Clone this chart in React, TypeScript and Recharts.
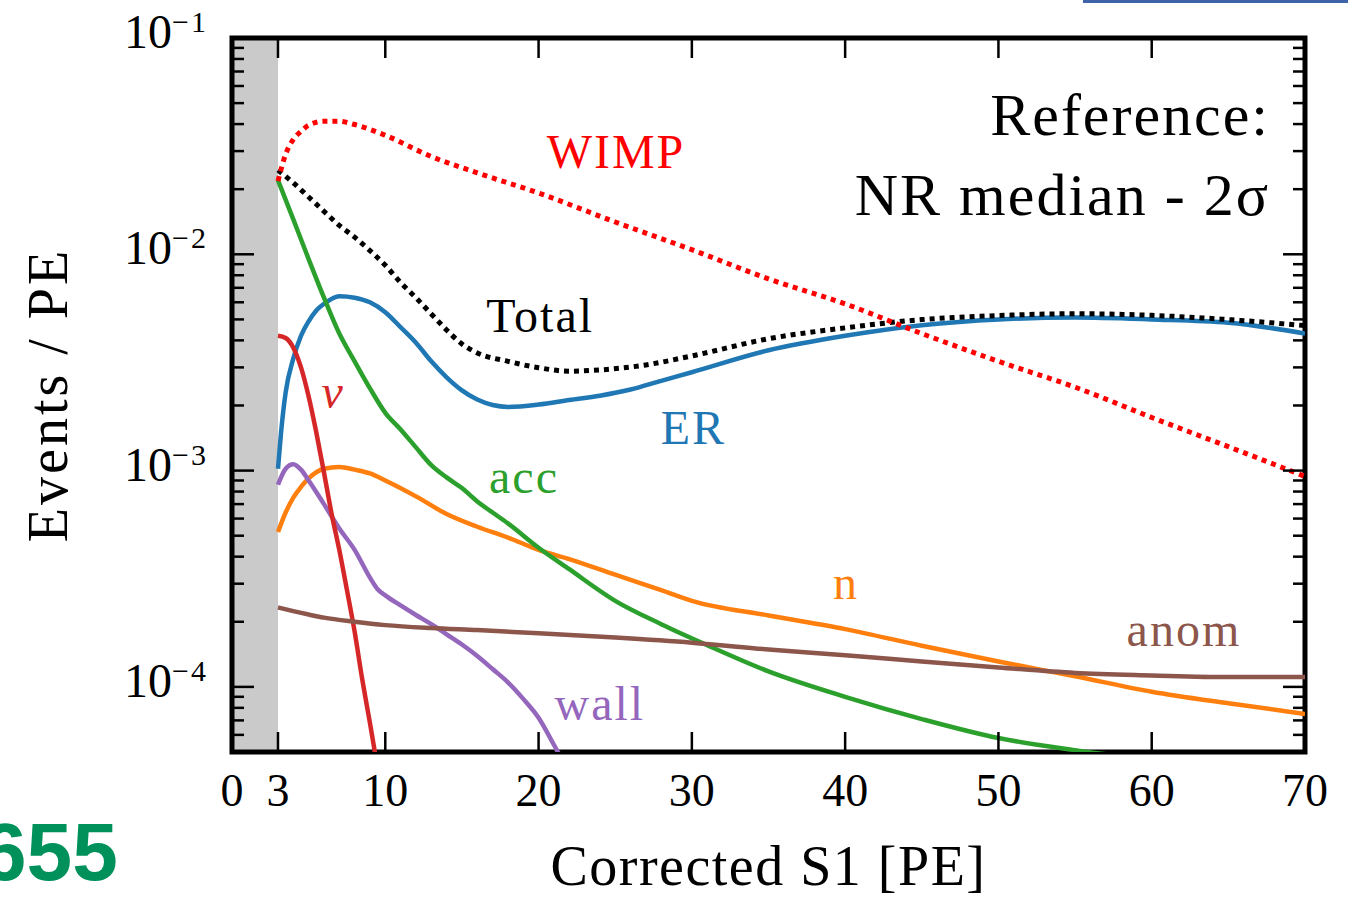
import React from 'react';
import { LineChart, Line, XAxis, YAxis, ReferenceArea, ReferenceDot } from 'recharts';

const SERIF = '"Liberation Serif", "Times New Roman", serif';

// axis ticks
const X_TICKS = [0, 3, 10, 20, 30, 40, 50, 60, 70];
const X_TOP_TICKS = [3, 10, 20, 30, 40, 50, 60, 70];
const Y_MAJOR = [1e-4, 1e-3, 1e-2, 1e-1];
const Y_EXP = ['\u22124', '\u22123', '\u22122', '\u22121'];
const Y_MINOR = [
  6e-5, 7e-5, 8e-5, 9e-5,
  2e-4, 3e-4, 4e-4, 5e-4, 6e-4, 7e-4, 8e-4, 9e-4,
  2e-3, 3e-3, 4e-3, 5e-3, 6e-3, 7e-3, 8e-3, 9e-3,
  2e-2, 3e-2, 4e-2, 5e-2, 6e-2, 7e-2, 8e-2, 9e-2,
];
const Y_TICKS = [...Y_MAJOR, ...Y_MINOR].sort((a, b) => a - b);

// spectra: [S1 (PE), events / PE]
const WIMP: [number, number][] = [
  [3, 0.0218], [3.5, 0.029], [4, 0.034], [4.5, 0.037], [5, 0.0395], [6, 0.0412], [7, 0.0412],
  [8, 0.0398], [10, 0.0355], [13, 0.0283], [16, 0.0238], [20, 0.0192], [25, 0.0141],
  [30, 0.0105], [35, 0.0077], [40, 0.0059], [45, 0.0043], [50, 0.0032], [55, 0.00243],
  [60, 0.00176], [65, 0.00129], [70, 0.00094],
];
const TOTAL: [number, number][] = [
  [3, 0.0245], [4, 0.0214], [5, 0.0184], [6, 0.0158], [7, 0.0136], [8, 0.012], [9, 0.0104],
  [10, 0.0089], [11, 0.0074], [12, 0.0063], [13, 0.0053], [14, 0.00447], [15, 0.00385],
  [16, 0.0035], [18, 0.0032], [20, 0.00299], [22, 0.00288], [24, 0.00292], [27, 0.00308],
  [30, 0.00339], [35, 0.00407], [40, 0.00457], [45, 0.00499], [50, 0.00521], [55, 0.00531],
  [60, 0.00522], [65, 0.00499], [70, 0.00468],
];
const ER: [number, number][] = [
  [3, 0.00102], [3.2, 0.0015], [3.5, 0.0023], [4, 0.0033], [4.5, 0.0042], [5, 0.0049],
  [5.5, 0.0055], [6, 0.0059], [7, 0.0064], [8, 0.0063], [9, 0.006], [10, 0.0054], [11, 0.0046],
  [12, 0.0039], [13, 0.0032], [14, 0.0027], [15, 0.00235], [16, 0.00213], [17, 0.00201],
  [18, 0.00197], [20, 0.00202], [22, 0.00212], [24, 0.00222], [26, 0.00237], [28, 0.0026],
  [30, 0.00285], [35, 0.0036], [40, 0.0042], [45, 0.0047], [50, 0.005], [55, 0.0051],
  [60, 0.005], [65, 0.00483], [70, 0.0043],
];
const ACC: [number, number][] = [
  [3, 0.022], [4, 0.0145], [5, 0.0095], [6, 0.0063], [7, 0.0043], [8, 0.0032], [9, 0.0024],
  [10, 0.00185], [11, 0.00155], [12, 0.00128], [13, 0.00106], [14, 0.00093], [15, 0.00083],
  [16, 0.00072], [17, 0.00064], [18, 0.00057], [20, 0.00044], [22, 0.00035], [25, 0.00025],
  [28, 0.000195], [31, 0.000156], [35, 0.000118], [40, 0.00009], [45, 0.000071],
  [50, 0.000058], [55, 0.000051], [60, 0.000046], [65, 0.000042], [70, 0.000039],
];
const NEUTRON: [number, number][] = [
  [3, 0.00052], [3.5, 0.00064], [4, 0.00075], [4.5, 0.00084], [5, 0.00092], [6, 0.00102],
  [7, 0.00104], [8, 0.00101], [9, 0.00097], [10, 0.0009], [12, 0.00076], [14, 0.00063],
  [16, 0.00055], [18, 0.00049], [20, 0.00043], [22, 0.00039], [25, 0.00033], [28, 0.00028],
  [30, 0.00025], [35, 0.000214], [40, 0.000185], [45, 0.000155], [50, 0.000131],
  [55, 0.000112], [60, 0.000095], [65, 0.000084], [70, 0.000075],
];
const ANOM: [number, number][] = [
  [3, 0.000233], [4, 0.000224], [5, 0.000216], [6, 0.000209], [8, 0.0002], [10, 0.000193],
  [13, 0.000187], [16, 0.000183], [20, 0.000177], [25, 0.000169], [30, 0.00016],
  [35, 0.000149], [40, 0.00014], [45, 0.000131], [50, 0.000123], [55, 0.000116],
  [60, 0.000113], [65, 0.000111], [70, 0.000111],
];
const WALL: [number, number][] = [
  [3, 0.00086], [3.5, 0.00102], [4, 0.00107], [4.5, 0.00101], [5, 0.0009], [6, 0.0007],
  [7, 0.00054], [8, 0.00043], [9, 0.00032], [9.5, 0.000283], [10, 0.000265], [11, 0.000238],
  [12, 0.000215], [13, 0.000195], [14, 0.000175], [15, 0.000157], [16, 0.000139],
  [17, 0.000121], [18, 0.000105], [19, 0.000088], [20, 0.000072], [21, 0.000054], [22, 0.00004],
];
const NU: [number, number][] = [
  [3, 0.0042], [3.5, 0.0041], [4, 0.0037], [4.5, 0.003], [5, 0.0022], [5.5, 0.0015],
  [6, 0.00098], [6.5, 0.00063], [7, 0.00043], [7.5, 0.00028], [8, 0.00018], [8.5, 0.000108],
  [9, 0.000068], [9.5, 0.000042], [10, 0.000026],
];

// text placed in data coordinates (baseline anchor)
const LABELS = [
  { text: 'WIMP', x: 25.05, y: 0.025, color: '#ff0000' },
  { text: 'Total', x: 20.1, y: 0.00436, color: '#000000' },
  { text: 'ER', x: 30.1, y: 0.00133, color: '#1f77b4' },
  { text: '\u03bd', x: 6.6, y: 0.00194, color: '#d62728', italic: true },
  { text: 'acc', x: 19.05, y: 0.00079, color: '#2ca02c' },
  { text: 'n', x: 40.05, y: 0.000255, color: '#ff7f0e' },
  { text: 'anom', x: 62.1, y: 0.000155, color: '#8c564b' },
  { text: 'wall', x: 24.0, y: 0.0000703, color: '#9467bd' },
];
const NOTE = [
  { text: 'Reference:', x: 67.72, y: 0.0356 },
  { text: 'NR median - 2\u03c3', x: 67.72, y: 0.01516 },
];

const toPoints = (pairs: [number, number][]) => pairs.map(([x, y]) => ({ x, y }));

const TICK_W = 2.5;

const BottomTick = (props: any) => {
  const { x, y, payload } = props;
  const v = payload.value;
  return (
    <g>
      {v > 0 && v < 70 && <line x1={x} y1={y} x2={x} y2={y - 20} stroke="#000" strokeWidth={TICK_W} />}
      <text x={x} y={y + 54} textAnchor="middle" fontSize={46} fontFamily={SERIF} fill="#000">
        {v}
      </text>
    </g>
  );
};

const TopTick = (props: any) => {
  const { x, y, payload } = props;
  if (payload.value >= 70) return <g />;
  return <line x1={x} y1={y} x2={x} y2={y + 20} stroke="#000" strokeWidth={TICK_W} />;
};

const LeftTick = (props: any) => {
  const { x, y, payload } = props;
  const i = Y_MAJOR.indexOf(payload.value);
  if (i < 0) return <line x1={x} y1={y} x2={x + 12} y2={y} stroke="#000" strokeWidth={TICK_W} />;
  return (
    <g>
      {i < Y_MAJOR.length - 1 && (
        <line x1={x} y1={y} x2={x + 22} y2={y} stroke="#000" strokeWidth={TICK_W} />
      )}
      <text x={x - 24} y={y + 10} textAnchor="end" fontSize={48} fontFamily={SERIF} fill="#000">
        10
        <tspan dy={-16} fontSize={30} letterSpacing={2}>
          {Y_EXP[i]}
        </tspan>
      </text>
    </g>
  );
};

const RightTick = (props: any) => {
  const { x, y, payload } = props;
  const major = Y_MAJOR.includes(payload.value);
  if (payload.value >= 0.1) return <g />;
  return <line x1={x} y1={y} x2={x - (major ? 22 : 12)} y2={y} stroke="#000" strokeWidth={TICK_W} />;
};

const textLabel = (text: string, color: string, opts: { italic?: boolean; anchor?: string; size?: number } = {}) =>
  (props: any) => {
    const { viewBox } = props;
    return (
      <text
        x={viewBox.x}
        y={viewBox.y}
        textAnchor={opts.anchor || 'middle'}
        fill={color}
        fontSize={opts.size || 48}
        fontStyle={opts.italic ? 'italic' : 'normal'}
        fontFamily={SERIF}
        letterSpacing={2}
      >
        {text}
      </text>
    );
  };

const line = (data: [number, number][], color: string, dotted = false) => (
  <Line
    xAxisId="b"
    yAxisId="l"
    data={toPoints(data)}
    dataKey="y"
    type="monotone"
    stroke={color}
    strokeWidth={dotted ? 5 : 4.5}
    strokeDasharray={dotted ? '5 5' : undefined}
    strokeLinecap="butt"
    dot={false}
    activeDot={false}
    isAnimationActive={false}
  />
);

export default function App() {
  return (
    <div style={{ width: 1340, height: 889 }}>
      <div style={{ position: 'absolute', left: 1083, top: 0, width: 265, height: 3, background: '#3f63a8' }} />
      <div
        style={{
          position: 'absolute',
          left: -19,
          top: 811,
          fontFamily: '"Liberation Sans", Arial, sans-serif',
          fontWeight: 700,
          fontSize: 82,
          lineHeight: 1,
          color: '#00915a',
        }}
      >
        655
      </div>
      <LineChart
        width={1340}
        height={889}
        margin={{ top: 29, right: 42, bottom: 144, left: 223 }}
        style={{ overflow: 'visible' }}
      >
        <XAxis
          xAxisId="b"
          type="number"
          dataKey="x"
          domain={[0, 70]}
          allowDataOverflow
          ticks={X_TICKS}
          interval={0}
          height={1}
          tickSize={0}
          tickMargin={0}
          axisLine={false}
          tick={BottomTick}
          label={{
            content: (p: any) => {
              const vb = p.viewBox;
              return (
                <text
                  x={vb.x + vb.width / 2}
                  y={vb.y + 133}
                  textAnchor="middle"
                  fontSize={56}
                  letterSpacing={1.5}
                  fontFamily={SERIF}
                  fill="#000"
                >
                  Corrected S1 [PE]
                </text>
              );
            },
          }}
        />
        <XAxis
          xAxisId="t"
          orientation="top"
          type="number"
          dataKey="x"
          domain={[0, 70]}
          allowDataOverflow
          ticks={X_TOP_TICKS}
          interval={0}
          height={1}
          tickSize={0}
          tickMargin={0}
          axisLine={false}
          tick={TopTick}
        />
        <YAxis
          yAxisId="l"
          type="number"
          scale="log"
          domain={[5e-5, 0.1]}
          allowDataOverflow
          ticks={Y_TICKS}
          interval={0}
          width={1}
          tickSize={0}
          tickMargin={0}
          axisLine={false}
          tick={LeftTick}
          label={{
            content: (p: any) => {
              const vb = p.viewBox;
              const cx = vb.x + vb.width - 165;
              const cy = vb.y + vb.height / 2;
              return (
                <text
                  x={cx}
                  y={cy}
                  transform={`rotate(-90 ${cx} ${cy})`}
                  textAnchor="middle"
                  fontSize={56}
                  letterSpacing={3}
                  fontFamily={SERIF}
                  fill="#000"
                >
                  Events / PE
                </text>
              );
            },
          }}
        />
        <YAxis
          yAxisId="r"
          orientation="right"
          type="number"
          scale="log"
          domain={[5e-5, 0.1]}
          allowDataOverflow
          ticks={Y_TICKS}
          interval={0}
          width={1}
          tickSize={0}
          tickMargin={0}
          axisLine={false}
          tick={RightTick}
        />

        {/* excluded low-S1 region */}
        <ReferenceArea xAxisId="b" yAxisId="l" x1={0} x2={3} y1={5e-5} y2={0.1} fill="#cacaca" fillOpacity={1} stroke="none" />

        {line(ER, '#1f77b4')}
        {line(NEUTRON, '#ff7f0e')}
        {line(ACC, '#2ca02c')}
        {line(WALL, '#9467bd')}
        {line(NU, '#d62728')}
        {line(ANOM, '#8c564b')}
        {line(TOTAL, '#000000', true)}
        {line(WIMP, '#ff0000', true)}

        {LABELS.map((l) => (
          <ReferenceDot
            key={l.text}
            xAxisId="b"
            yAxisId="l"
            x={l.x}
            y={l.y}
            r={0}
            fill="none"
            stroke="none"
            label={textLabel(l.text, l.color, { italic: l.italic })}
          />
        ))}
        {NOTE.map((l) => (
          <ReferenceDot
            key={l.text}
            xAxisId="b"
            yAxisId="l"
            x={l.x}
            y={l.y}
            r={0}
            fill="none"
            stroke="none"
            label={textLabel(l.text, '#000', { anchor: 'end', size: 60 })}
          />
        ))}

        {/* plot frame */}
        <ReferenceArea xAxisId="b" yAxisId="l" x1={0} x2={70} y1={5e-5} y2={0.1} fill="none" stroke="#000" strokeWidth={5} />
      </LineChart>
    </div>
  );
}
